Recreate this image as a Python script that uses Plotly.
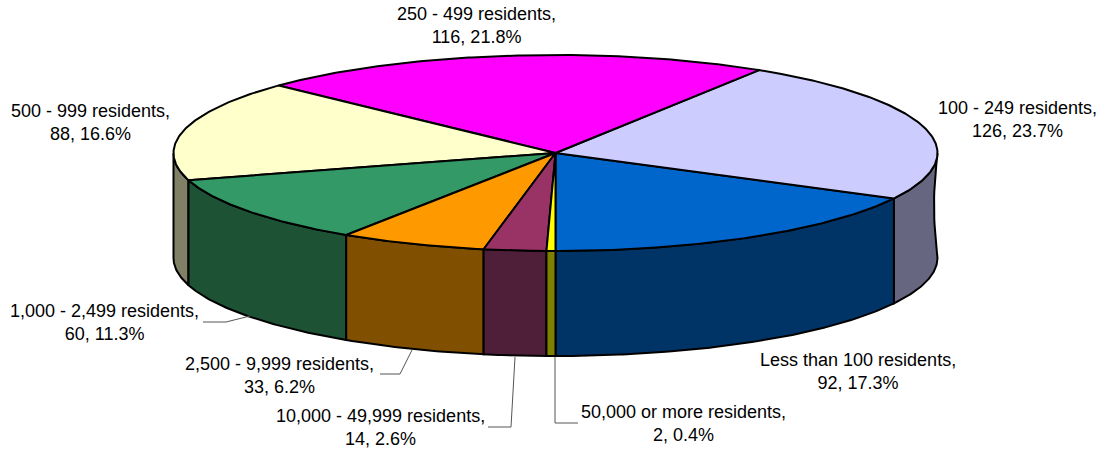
import numpy as np
import plotly.graph_objs as go

# data, counter-clockwise on screen from the front
categories = ['Less than 100 residents', '100 - 249 residents', '250 - 499 residents',
              '500 - 999 residents', '1,000 - 2,499 residents', '2,500 - 9,999 residents',
              '10,000 - 49,999 residents', '50,000 or more residents']
values = [92, 126, 116, 88, 60, 33, 14, 2]

top_colors = ['#0066CC', '#CCCCFF', '#FF00FF', '#FFFFCC', '#339966', '#FF9900', '#993366', '#FFFF00']
side_colors = ['#003366', '#666680', '#800080', '#808066', '#1D5235', '#804F00', '#4F1F3A', '#808000']

# pie geometry in pixels (axes are set to the page size)
cx, cy = 555.5, 153
rx, ry = 382, 98
depth = 105

label_pos = [(858, 371), (1017, 119), (476, 25), (90, 122),
             (104, 322), (279, 375), (380, 427), (683, 423)]

leaders = [None, None, None, None,
           [(203, 322), (226, 322), (250, 316)],
           [(380, 374), (400, 374), (412, 350)],
           [(488, 427), (511, 427), (515, 357)],
           [(578, 423), (555, 423), (555, 357)]]


def arc(a0, a1):
    t = np.radians(np.linspace(a0, a1, max(int(abs(a1 - a0) * 2), 2)))
    return cx + rx * np.sin(t), cy + ry * np.cos(t)


total = sum(values)
edges = np.concatenate([[0], np.cumsum(values) / total * 360])

fig = go.Figure()

# side walls first, only the part of each slice that faces the viewer
for i in range(len(values)):
    for lo, hi in [(0, 90), (270, 360)]:
        a0, a1 = max(edges[i], lo), min(edges[i + 1], hi)
        if a1 <= a0:
            continue
        x, y = arc(a0, a1)
        # the right silhouette of the wall bends inwards a little in the original
        bend = np.linspace(0, np.pi, 20)[1:-1] if a1 == 90 else np.array([])
        fig.add_trace(go.Scatter(
            x=np.concatenate([x, x[-1] - 3.5 * np.sin(bend), x[::-1], x[:1]]),
            y=np.concatenate([y, y[-1] + depth * bend / np.pi, y[::-1] + depth, y[:1]]),
            mode='lines', fill='toself', fillcolor=side_colors[i],
            line=dict(color='black', width=2), hoverinfo='skip'))

# top face
for i in range(len(values)):
    x, y = arc(edges[i], edges[i + 1])
    fig.add_trace(go.Scatter(
        x=np.concatenate([[cx], x, [cx]]),
        y=np.concatenate([[cy], y, [cy]]),
        mode='lines', fill='toself', fillcolor=top_colors[i],
        line=dict(color='black', width=2), hoverinfo='skip'))

# leader lines
for pts in leaders:
    if pts:
        fig.add_trace(go.Scatter(
            x=[p[0] for p in pts], y=[p[1] for p in pts], mode='lines',
            line=dict(color='#555555', width=1), hoverinfo='skip'))

# labels
for name, v, (lx, ly) in zip(categories, values, label_pos):
    fig.add_annotation(x=lx, y=ly, xref='x', yref='y', showarrow=False, align='center',
                       text=f'{name},<br>{v}, {v / total * 100:.1f}%',
                       font=dict(family='Liberation Sans', size=18, color='black'))

fig.update_layout(
    width=1103, height=451, showlegend=False,
    margin=dict(l=0, r=0, t=0, b=0),
    paper_bgcolor='white', plot_bgcolor='white',
    xaxis=dict(range=[0, 1103], visible=False),
    yaxis=dict(range=[451, 0], visible=False),
)

# the page's default body margin would push the chart 8px down and right
fig.write_html('out.html', config=dict(displayModeBar=False),
               post_script="document.body.style.margin='0';")
